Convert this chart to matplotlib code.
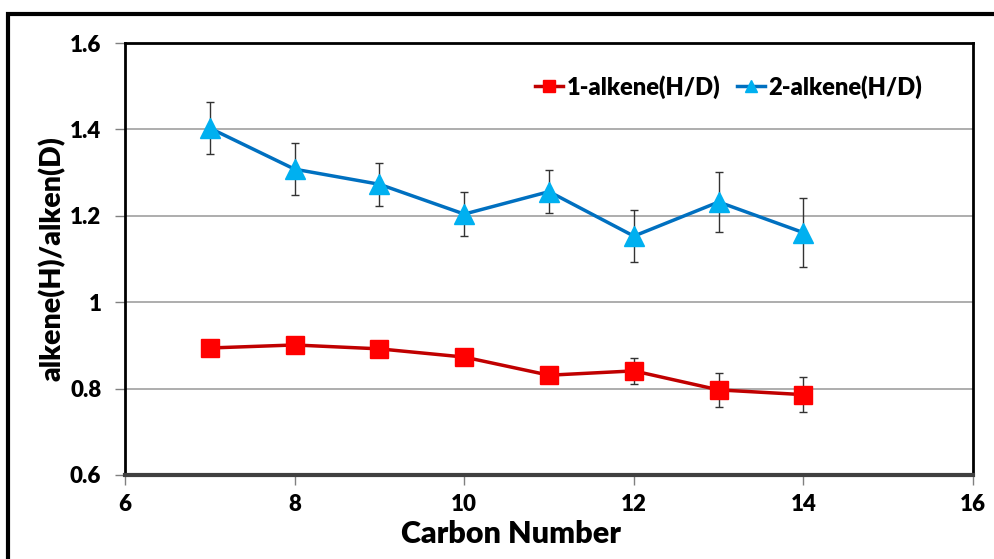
import matplotlib.pyplot as plt
from matplotlib.patches import Rectangle

plt.rcParams['font.family'] = ['Lato', 'DejaVu Sans']
plt.rcParams['font.weight'] = 'heavy'

# ===== data
carbon = [7, 8, 9, 10, 11, 12, 13, 14]
alkene1 = [0.894, 0.901, 0.892, 0.873, 0.831, 0.841, 0.797, 0.786]
alkene1_err = [0.01, 0.01, 0.01, 0.01, 0.01, 0.03, 0.04, 0.04]
alkene2 = [1.403, 1.308, 1.273, 1.204, 1.256, 1.153, 1.232, 1.161]
alkene2_err = [0.06, 0.06, 0.05, 0.05, 0.05, 0.06, 0.07, 0.08]

fig = plt.figure(figsize=(9.95, 5.59), dpi=100)
ax = fig.add_axes([0.1256, 0.1503, 0.8524, 0.7727])

# outer chart frame (runs off the right and bottom edges)
fig.patches.append(Rectangle((8 / 995, -0.05), 1.2, (559 - 14) / 559 + 0.05,
                             transform=fig.transFigure, fill=False,
                             edgecolor='black', linewidth=3))

# error bars first, then lines + markers on top
ax.errorbar(carbon, alkene1, yerr=alkene1_err, fmt='none', ecolor='#333333',
            elinewidth=1, capsize=3, zorder=2)
ax.errorbar(carbon, alkene2, yerr=alkene2_err, fmt='none', ecolor='#333333',
            elinewidth=1, capsize=3, zorder=2)
ax.plot(carbon, alkene1, color='#C00000', lw=2.5, marker='s', markersize=13,
        markerfacecolor='#FF0000', markeredgecolor='#FF0000',
        label='1-alkene(H/D)', zorder=3)
ax.plot(carbon, alkene2, color='#0070C0', lw=2.5, marker='^', markersize=14,
        markerfacecolor='#00B0F0', markeredgecolor='#00B0F0',
        label='2-alkene(H/D)', zorder=3)

ax.set_xlim(6, 16)
ax.set_ylim(0.6, 1.6)
ax.set_xticks([6, 8, 10, 12, 14, 16])
ax.set_yticks([0.6, 0.8, 1.0, 1.2, 1.4, 1.6])
ax.set_yticklabels(['0.6', '0.8', '1', '1.2', '1.4', '1.6'])
ax.grid(axis='y', color='#A0A0A0', lw=1.2)
ax.set_axisbelow(True)
ax.tick_params(direction='out', length=7, width=1, color='#808080',
               labelsize=16)
ax.tick_params(axis='y', pad=10)
ax.tick_params(axis='x', pad=7)
for side in ['left', 'top', 'right']:
    ax.spines[side].set_linewidth(2)
    ax.spines[side].set_color('black')
ax.spines['bottom'].set_linewidth(3)
ax.spines['bottom'].set_color('#404040')

ax.set_xlabel('Carbon Number', fontsize=22, fontweight='heavy')
ax.xaxis.set_label_coords(0.455, -0.104)
ax.set_ylabel('alkene(H)/alken(D)', fontsize=20.5, fontweight='heavy')
ax.yaxis.set_label_coords(-0.07, 0.5)

ax.legend(loc='upper right', bbox_to_anchor=(0.965, 0.975), ncol=2,
          frameon=False, handlelength=1.2, handletextpad=0.15,
          columnspacing=0.7, markerscale=0.65,
          prop={'weight': 'heavy', 'size': 17})

fig.savefig('out.png', dpi=100)
